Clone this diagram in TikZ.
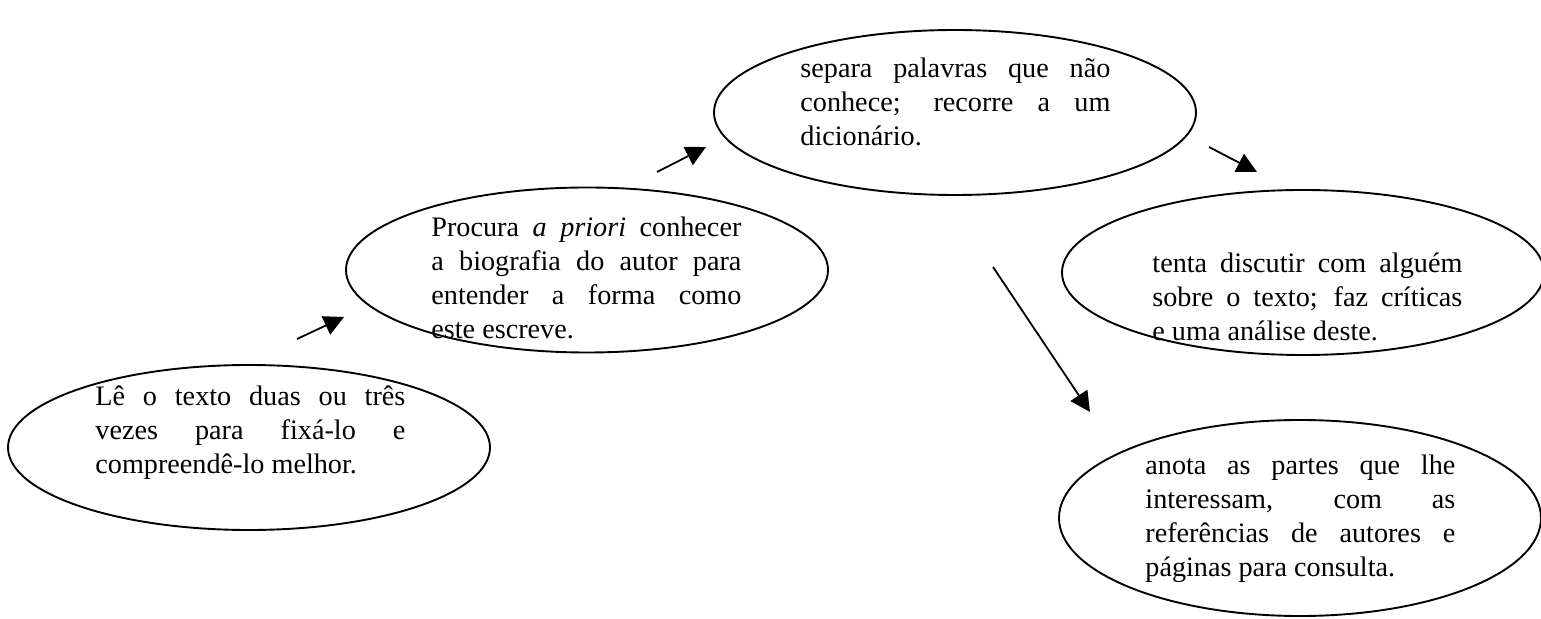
\documentclass[tikz,border=0pt]{standalone}
\usepackage{fontspec}
\setmainfont{Liberation Serif}
\usepackage{tikz}
\usetikzlibrary{shapes,arrows.meta}
\newcommand{\bubblefont}{\rmfamily\fontsize{14.1pt}{16.9pt}\selectfont\tolerance=10000\hyphenpenalty=10000\exhyphenpenalty=10000}
\tikzstyle{none}=[inner sep=0pt]
\tikzstyle{bubble}=[ellipse,draw=black,line width=0.95pt,minimum width=241pt,minimum height=82.5pt,inner sep=0pt]
\tikzstyle{tallbubble}=[style=bubble,minimum height=98pt]
\tikzstyle{words}=[inner sep=0pt,text width=155pt,align=justify,anchor=base west,font=\bubblefont]
\tikzstyle{inarrow}=[-{Triangle[length=10pt,width=10pt]},line width=0.9pt]
\pgfdeclarelayer{edgelayer}
\pgfdeclarelayer{nodelayer}
\pgfsetlayers{edgelayer,nodelayer,main}
\begin{document}
\begin{tikzpicture}[x=0.5pt,y=-0.5pt]
	\useasboundingbox (0, 0) rectangle (1541, 619);
	\begin{pgfonlayer}{nodelayer}
		\node [style=bubble] (0) at (249, 447.5) {};
		\node [style=bubble] (1) at (587, 270) {};
		\node [style=bubble] (2) at (955, 112.5) {};
		\node [style=bubble] (3) at (1303, 272.5) {};
		\node [style=tallbubble] (4) at (1300, 518) {};
		\node [style=words] (5) at (95, 406) {Lê o texto duas ou três\linebreak vezes para fixá-lo e\linebreak compreendê-lo melhor.};
		\node [style=words] (6) at (431, 237) {Procura \textit{a priori} conhecer\linebreak a biografia do autor para\linebreak entender a forma como\linebreak este escreve.};
		\node [style=words] (7) at (800, 78) {separa palavras que não\linebreak conhece; recorre a um\linebreak dicionário.};
		\node [style=words] (8) at (1152, 273) {tenta discutir com alguém\linebreak sobre o texto; faz críticas\linebreak e uma análise deste.};
		% the last line is cut off at the bottom, as in the scan
		\begin{scope}
			\clip (1135, 440) rectangle (1465, 581);
			\node [style=words] (9) at (1145, 475) {anota as partes que lhe\linebreak interessam, com as\linebreak referências de autores e\linebreak páginas para consulta.};
		\end{scope}
		\node [style=none] (10) at (297, 339) {};
		\node [style=none] (11) at (344, 317) {};
		\node [style=none] (12) at (657, 172) {};
		\node [style=none] (13) at (706, 147) {};
		\node [style=none] (14) at (1209, 147) {};
		\node [style=none] (15) at (1257, 172) {};
		\node [style=none] (16) at (993, 267) {};
		\node [style=none] (17) at (1090, 412) {};
	\end{pgfonlayer}
	\begin{pgfonlayer}{edgelayer}
		\draw [style=inarrow] (10.center) to (11.center);
		\draw [style=inarrow] (12.center) to (13.center);
		\draw [style=inarrow] (14.center) to (15.center);
		\draw [style=inarrow] (16.center) to (17.center);
	\end{pgfonlayer}
\end{tikzpicture}
\end{document}
